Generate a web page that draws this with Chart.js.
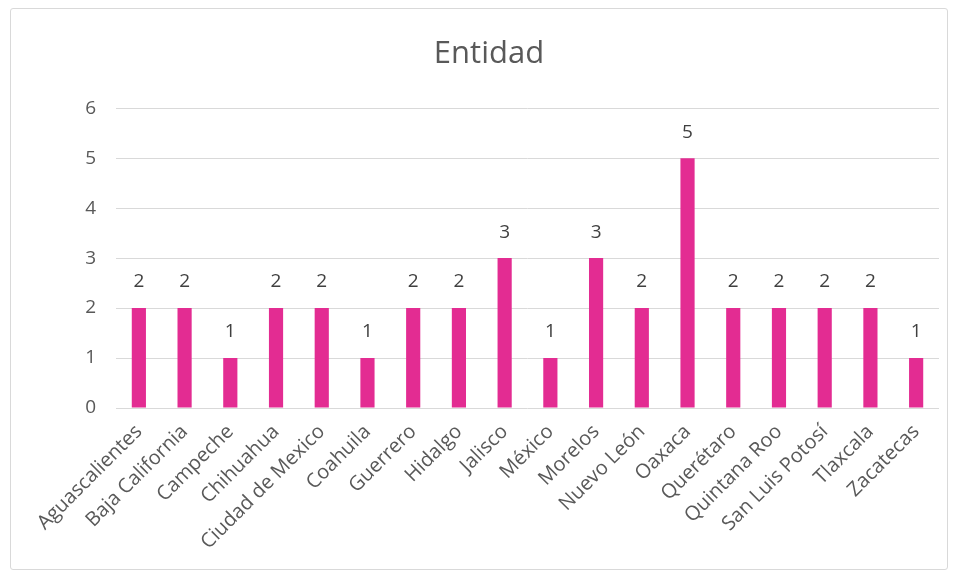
<!DOCTYPE html>
<html>
<head>
<meta charset="utf-8">
<script src="https://cdn.jsdelivr.net/npm/chart.js@4/dist/chart.umd.min.js"></script>
<style>
  body { margin: 0; background: #fff; }
  #box { position: absolute; left: 10px; top: 8px; width: 936px; height: 560px; border: 1px solid #d9d9d9; border-radius: 3px; }
</style>
</head>
<body>
<div id="box"><canvas id="chart" width="936" height="560"></canvas></div>
<script>
const categories = ['Aguascalientes', 'Baja California', 'Campeche', 'Chihuahua', 'Ciudad de Mexico', 'Coahuila', 'Guerrero', 'Hidalgo', 'Jalisco', 'México', 'Morelos', 'Nuevo León', 'Oaxaca', 'Querétaro', 'Quintana Roo', 'San Luis Potosí', 'Tlaxcala', 'Zacatecas'];
const counts = [2, 2, 1, 2, 2, 1, 2, 2, 3, 1, 3, 2, 5, 2, 2, 2, 2, 1];
const yTicks = [0, 1, 2, 3, 4, 5, 6];

const fontFamily = '"Open Sans", sans-serif';

// draws the value above each bar
const barLabels = {
  id: 'barLabels',
  afterDatasetsDraw(chart) {
    const ctx = chart.ctx;
    const meta = chart.getDatasetMeta(0);
    ctx.save();
    ctx.font = '19px ' + fontFamily;
    ctx.fillStyle = '#404040';
    ctx.textAlign = 'center';
    ctx.textBaseline = 'middle';
    meta.data.forEach((bar, i) => {
      ctx.fillText(counts[i], bar.x, bar.y - 26);
    });
    ctx.restore();
  }
};

new Chart(document.getElementById('chart'), {
  type: 'bar',
  data: {
    labels: categories,
    datasets: [{
      data: counts,
      backgroundColor: '#E32C92',
      categoryPercentage: 1,
      barPercentage: 0.31
    }]
  },
  options: {
    responsive: false,
    animation: false,
    layout: { padding: { left: 28, right: 8, top: 0, bottom: 0 } },
    plugins: {
      legend: { display: false },
      tooltip: { enabled: false },
      title: {
        display: true,
        text: 'Entidad',
        color: '#595959',
        font: { family: fontFamily, size: 31, weight: 'normal' },
        padding: { top: 27, bottom: 35 }
      }
    },
    scales: {
      y: {
        min: 0,
        max: 6,
        afterBuildTicks(scale) { scale.ticks = yTicks.map(v => ({ value: v })); },
        afterFit(scale) { scale.width = 77; },
        border: { display: false },
        grid: { color: '#d9d9d9', drawTicks: false },
        ticks: { color: '#595959', padding: 20, font: { family: fontFamily, size: 19 } }
      },
      x: {
        afterFit(scale) { scale.height = 161; },
        border: { display: false },
        grid: { display: false },
        ticks: {
          color: '#595959',
          maxRotation: 45,
          minRotation: 45,
          autoSkip: false,
          padding: 4,
          font: { family: fontFamily, size: 20 }
        }
      }
    }
  },
  plugins: [barLabels]
});
</script>
</body>
</html>
